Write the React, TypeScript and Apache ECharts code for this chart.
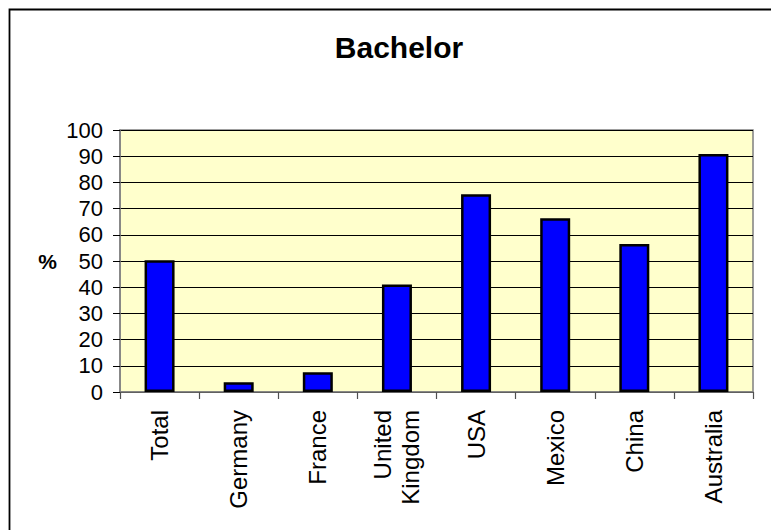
import React, { useEffect, useRef } from "react";
import * as echarts from "echarts";

const categories = ["Total", "Germany", "France", "United\nKingdom", "USA", "Mexico", "China", "Australia"];
const values = [50.3, 3.7, 7.5, 41.0, 75.5, 66.3, 56.5, 90.8];
const titleText = "Bachelor";
const yAxisName = "%";

const FONT = 'Arial, "Liberation Sans", sans-serif';

export default function App() {
  const ref = useRef<HTMLDivElement>(null);
  useEffect(() => {
    if (!ref.current) return;
    const chart = echarts.init(ref.current, null, { renderer: "svg" });
    chart.setOption({
      animation: false,
      backgroundColor: "#ffffff",
      graphic: [
        {
          type: "polyline",
          shape: { points: [[1.5, 530], [1.5, 1.5], [780, 1.5]] },
          style: { stroke: "#000", lineWidth: 1.8, fill: "none" },
          silent: true,
        },
        {
          type: "text",
          x: 391,
          y: 39,
          style: {
            text: titleText,
            fontSize: 30,
            fontWeight: "bold",
            fontFamily: FONT,
            fill: "#000",
            align: "center",
            verticalAlign: "middle",
          },
        },
      ],
      grid: {
        left: 112,
        top: 122,
        width: 633,
        height: 262,
        show: true,
        backgroundColor: "#FFFFCC",
        borderColor: "#808080",
        borderWidth: 1.5,
      },
      xAxis: {
        type: "category",
        data: categories,
        boundaryGap: true,
        axisLine: { show: true, lineStyle: { color: "#808080", width: 1.5 } },
        axisTick: { show: true, length: 7, lineStyle: { color: "#505050", width: 1.2 } },
        axisLabel: {
          rotate: 90,
          interval: 0,
          margin: 18,
          fontSize: 24,
          lineHeight: 28,
          fontFamily: FONT,
          color: "#000",
        },
        splitLine: { show: false },
      },
      yAxis: {
        type: "value",
        min: 0,
        max: 100,
        interval: 10,
        name: yAxisName,
        nameLocation: "middle",
        nameRotate: 0,
        nameGap: 63,
        nameTextStyle: { fontSize: 21, fontWeight: "bold", fontFamily: FONT, color: "#000" },
        axisLine: { show: true, lineStyle: { color: "#808080", width: 1.5 } },
        axisTick: { show: true, length: 7, lineStyle: { color: "#000", width: 1 } },
        axisLabel: { fontSize: 22, fontFamily: FONT, color: "#000", margin: 17 },
        splitLine: { show: true, lineStyle: { color: "#000", width: 1 } },
      },
      series: [
        {
          type: "bar",
          data: values,
          barWidth: 30,
          itemStyle: { color: "#0000FF", borderColor: "#000", borderWidth: 2.5 },
        },
      ],
    });
    return () => chart.dispose();
  }, []);
  return <div ref={ref} style={{ width: 771, height: 522 }} />;
}
